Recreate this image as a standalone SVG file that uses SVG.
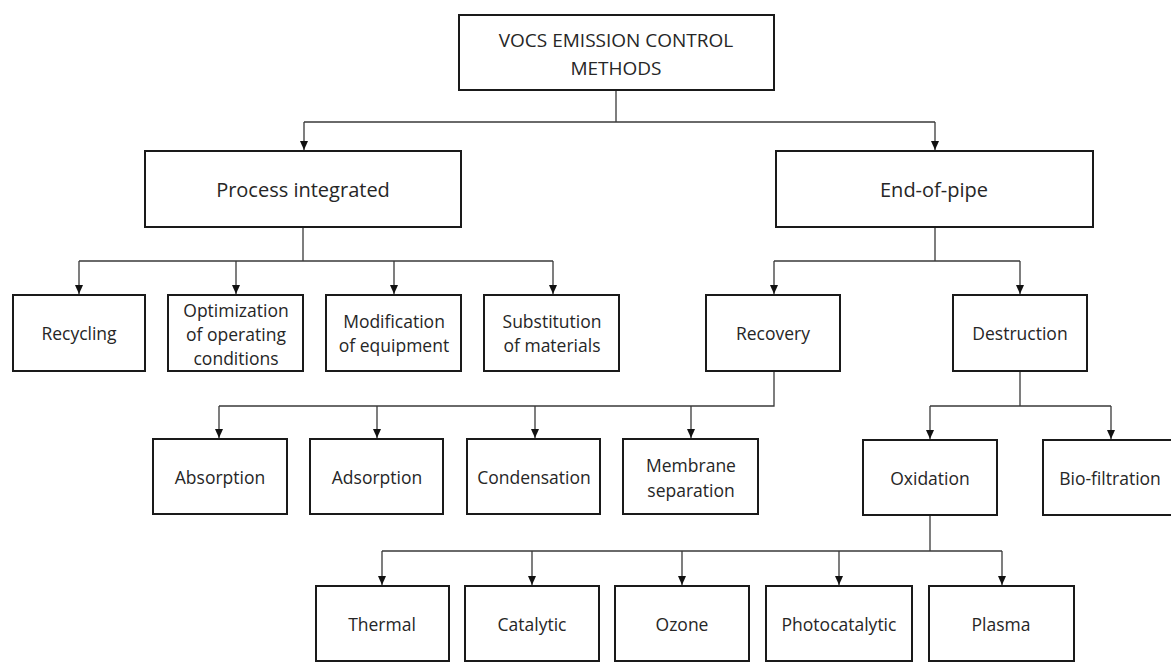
<svg xmlns="http://www.w3.org/2000/svg" width="1171" height="664" viewBox="0 0 1171 664">
<style>
.box{fill:#fff;stroke:#1a1a1a;stroke-width:2}
.t{font-family:"Open Sans","Liberation Sans",sans-serif;font-size:17.5px;fill:#262626;text-anchor:middle;dominant-baseline:central}
.tl{font-size:20px}
.tt{font-size:19px}
.c{fill:none;stroke:#3a3a3a;stroke-width:1.3}
</style>
<defs>
<marker id="ah" markerUnits="userSpaceOnUse" markerWidth="9" markerHeight="8" refX="9" refY="4" orient="auto" viewBox="0 0 9 8">
<path d="M0,0 L9,4 L0,8 Z" fill="#111"/>
</marker>
</defs>
<rect width="1171" height="664" fill="#fff"/>
<g id="connectors">
<path class="c" d="M616,90 V122 M304,122 H935"/>
<line class="c" x1="304" y1="122" x2="304" y2="150" marker-end="url(#ah)"/>
<line class="c" x1="935" y1="122" x2="935" y2="150" marker-end="url(#ah)"/>
<path class="c" d="M303,227 V261 M79,261 H553"/>
<line class="c" x1="79" y1="261" x2="79" y2="294" marker-end="url(#ah)"/>
<line class="c" x1="236" y1="261" x2="236" y2="294" marker-end="url(#ah)"/>
<line class="c" x1="394" y1="261" x2="394" y2="294" marker-end="url(#ah)"/>
<line class="c" x1="553" y1="261" x2="553" y2="294" marker-end="url(#ah)"/>
<path class="c" d="M935,227 V261 M774,261 H1020"/>
<line class="c" x1="774" y1="261" x2="774" y2="294" marker-end="url(#ah)"/>
<line class="c" x1="1020" y1="261" x2="1020" y2="294" marker-end="url(#ah)"/>
<path class="c" d="M774,371 V406 H219"/>
<line class="c" x1="219" y1="406" x2="219" y2="438" marker-end="url(#ah)"/>
<line class="c" x1="377" y1="406" x2="377" y2="438" marker-end="url(#ah)"/>
<line class="c" x1="535" y1="406" x2="535" y2="438" marker-end="url(#ah)"/>
<line class="c" x1="691" y1="406" x2="691" y2="438" marker-end="url(#ah)"/>
<path class="c" d="M1020,371 V406 M930,406 H1111"/>
<line class="c" x1="930" y1="406" x2="930" y2="439" marker-end="url(#ah)"/>
<line class="c" x1="1111" y1="406" x2="1111" y2="439" marker-end="url(#ah)"/>
<path class="c" d="M930,515 V551 H382 M930,551 H1002"/>
<line class="c" x1="382" y1="551" x2="382" y2="585" marker-end="url(#ah)"/>
<line class="c" x1="532" y1="551" x2="532" y2="585" marker-end="url(#ah)"/>
<line class="c" x1="682" y1="551" x2="682" y2="585" marker-end="url(#ah)"/>
<line class="c" x1="839" y1="551" x2="839" y2="585" marker-end="url(#ah)"/>
<line class="c" x1="1002" y1="551" x2="1002" y2="585" marker-end="url(#ah)"/>
</g>
<g id="n-root"><rect class="box" x="459" y="15" width="315" height="75"/><text class="t tt" x="616" y="40">VOCS EMISSION CONTROL</text><text class="t tt" x="616" y="68">METHODS</text></g>
<g id="n-process"><rect class="box" x="145" y="151" width="316" height="76"/><text class="t tl" x="303" y="189">Process integrated</text></g>
<g id="n-endofpipe"><rect class="box" x="776" y="151" width="317" height="76"/><text class="t tl" x="934" y="189">End-of-pipe</text></g>
<g id="n-recycling"><rect class="box" x="13" y="295" width="132" height="76"/><text class="t" x="79" y="333">Recycling</text></g>
<g id="n-optimization"><rect class="box" x="168" y="295" width="135" height="76"/><text class="t" x="236" y="310">Optimization</text><text class="t" x="236" y="334">of operating</text><text class="t" x="236" y="358">conditions</text></g>
<g id="n-modification"><rect class="box" x="326" y="295" width="135" height="76"/><text class="t" x="394" y="321">Modification</text><text class="t" x="394" y="345">of equipment</text></g>
<g id="n-substitution"><rect class="box" x="484" y="295" width="135" height="76"/><text class="t" x="552" y="321">Substitution</text><text class="t" x="552" y="345">of materials</text></g>
<g id="n-recovery"><rect class="box" x="706" y="295" width="134" height="76"/><text class="t" x="773" y="333">Recovery</text></g>
<g id="n-destruction"><rect class="box" x="953" y="295" width="134" height="76"/><text class="t" x="1020" y="333">Destruction</text></g>
<g id="n-absorption"><rect class="box" x="153" y="439" width="134" height="75"/><text class="t" x="220" y="477">Absorption</text></g>
<g id="n-adsorption"><rect class="box" x="310" y="439" width="133" height="75"/><text class="t" x="377" y="477">Adsorption</text></g>
<g id="n-condensation"><rect class="box" x="467" y="439" width="133" height="75"/><text class="t" x="534" y="477">Condensation</text></g>
<g id="n-membrane"><rect class="box" x="623" y="439" width="135" height="75"/><text class="t" x="691" y="465">Membrane</text><text class="t" x="691" y="490">separation</text></g>
<g id="n-oxidation"><rect class="box" x="863" y="440" width="134" height="75"/><text class="t" x="930" y="478">Oxidation</text></g>
<g id="n-biofiltration"><rect class="box" x="1043" y="440" width="136" height="75"/><text class="t" x="1110" y="478">Bio-filtration</text></g>
<g id="n-thermal"><rect class="box" x="316" y="586" width="133" height="75"/><text class="t" x="382" y="624">Thermal</text></g>
<g id="n-catalytic"><rect class="box" x="465" y="586" width="134" height="75"/><text class="t" x="532" y="624">Catalytic</text></g>
<g id="n-ozone"><rect class="box" x="615" y="586" width="134" height="75"/><text class="t" x="682" y="624">Ozone</text></g>
<g id="n-photocatalytic"><rect class="box" x="766" y="586" width="146" height="75"/><text class="t" x="839" y="624">Photocatalytic</text></g>
<g id="n-plasma"><rect class="box" x="929" y="586" width="145" height="75"/><text class="t" x="1001" y="624">Plasma</text></g>
</svg>
